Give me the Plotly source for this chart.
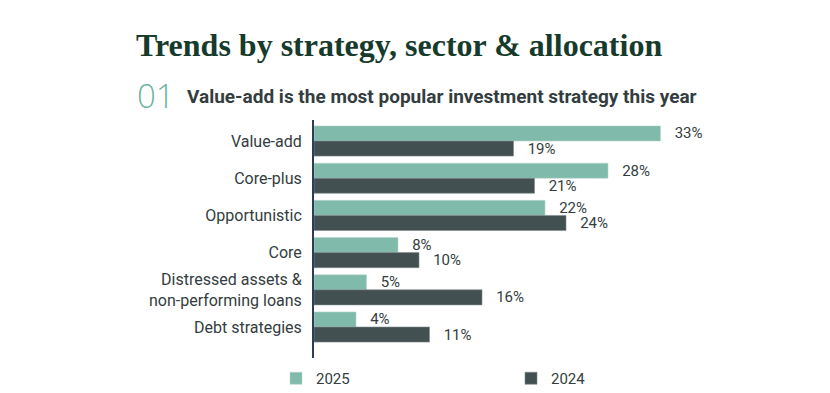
import plotly.graph_objects as go

categories = ["Value-add", "Core-plus", "Opportunistic", "Core",
              "Distressed assets &<br>non-performing loans", "Debt strategies"]
values_2025 = [33, 28, 22, 8, 5, 4]
values_2024 = [19, 21, 24, 10, 16, 11]
series_names = ["2025", "2024"]

C25 = "#7fbaaa"
C24 = "#435052"
TXT = "#333d40"

OFF = 8  # browser default body margin
FW, FH = 830 - OFF, 393 - OFF
PT, PB, PL, PR = 120 - OFF, 358 - OFF, 314 - OFF, 734 - OFF  # plot area in figure pixels
H = PB - PT
W = PR - PL

def px_x(x):
    return (x - OFF - PL) / W

def px_y(y):
    return (PB - (y - OFF)) / H

fig = go.Figure()
for name, vals, col, edge in [(series_names[0], values_2025, C25, "#b9d6cd"),
                              (series_names[1], values_2024, C24, "#7d8a8b")]:
    fig.add_trace(go.Bar(
        y=categories, x=vals, name=name, orientation="h",
        marker=dict(color=col, line=dict(color=edge, width=0.6)),
        text=[f"   {v}%" for v in vals], textposition="outside",
        constraintext="none",
        textfont=dict(family="Roboto", size=15, color=TXT),
        cliponaxis=False,
    ))

fig.update_layout(
    width=FW, height=FH,
    margin=dict(l=PL, r=FW - PR, t=PT, b=FH - PB, autoexpand=False),
    paper_bgcolor="white", plot_bgcolor="white",
    barmode="group", bargap=0.19, bargroupgap=0,
    showlegend=True,
    legend=dict(orientation="h", x=px_x(276), xanchor="left", y=px_y(362), yanchor="top",
                entrywidth=190, entrywidthmode="pixels",
                font=dict(family="Roboto", size=15, color=TXT),
                itemwidth=30, traceorder="normal"),
    xaxis=dict(range=[0, 40], visible=False, fixedrange=True, automargin=False),
    yaxis=dict(categoryorder="array", categoryarray=categories,
               range=[5.833, -0.565], showgrid=False, zeroline=False,
               showline=True, linecolor="#2c3d5a", linewidth=2,
               ticks="", ticklabelstandoff=7, automargin=False,
               tickfont=dict(family="Roboto", size=16, color=TXT)),
    font=dict(family="Roboto", color=TXT),
)

fig.add_annotation(text="<b>Trends by strategy, sector & allocation</b>",
                   xref="paper", yref="paper", x=px_x(134), y=px_y(45),
                   xanchor="left", yanchor="middle", showarrow=False,
                   font=dict(family="Liberation Serif", size=32, color="#163a2c"))
fig.add_annotation(text="01", xref="paper", yref="paper",
                   x=px_x(135), y=px_y(96),
                   xanchor="left", yanchor="middle", showarrow=False,
                   font=dict(family="Open Sans", size=33, color="#6fb5a0", weight=300))
fig.add_annotation(text="<b>Value-add is the most popular investment strategy this year</b>",
                   xref="paper", yref="paper",
                   x=px_x(185), y=px_y(97),
                   xanchor="left", yanchor="middle", showarrow=False,
                   font=dict(family="Roboto", size=19, color=TXT))

fig.write_html("out.html")
